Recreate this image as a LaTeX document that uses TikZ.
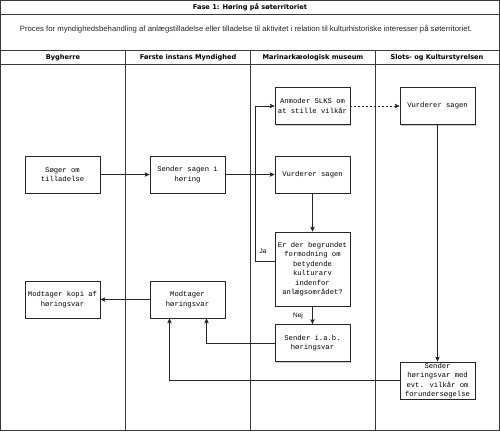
\documentclass[tikz,border=0pt]{standalone}
\usepackage{fontspec}
\setmainfont{Liberation Sans}
\newfontfamily\boxfont{Liberation Mono}
\newfontfamily\headfont{DejaVu Sans}
\usetikzlibrary{arrows.meta,shadows,calc}
\definecolor{lane}{HTML}{3A3A3A}
\tikzset{
  lanes/.style={draw=lane, line width=0.9pt},
  procbox/.style={draw=black!85, line width=0.7pt, fill=white, minimum width=75pt, minimum height=37pt,
    align=center, inner sep=1pt, font=\boxfont\fontsize{7.2}{9.5}\selectfont,
    drop shadow={shadow xshift=1.2pt, shadow yshift=-1.2pt, opacity=0.35, fill=black!60}},
  tallbox/.style={procbox, minimum height=74pt},
  hdr/.style={font=\headfont\bfseries\fontsize{6.6}{8}\selectfont, inner sep=0pt},
  conn/.style={draw=black!85, line width=0.6pt, -{Stealth[length=5pt,width=4.5pt,inset=1.2pt]}},
  lbl/.style={font=\fontsize{6.5}{8}\selectfont, inner sep=0.5pt, fill=white}
}
\begin{document}
\begin{tikzpicture}[x=1pt,y=-1pt]
\useasboundingbox (0,0) rectangle (500,431);
% frame
\draw[lanes] (0.5,0.5) rectangle (499.5,430.5);
\draw[lanes] (0.5,14.5) -- (499.5,14.5);
\draw[lanes] (0.5,50) -- (499.5,50);
\draw[lanes] (0.5,64.3) -- (499.5,64.3);
\draw[lanes] (125,50) -- (125,430.5);
\draw[lanes] (250,50) -- (250,430.5);
\draw[lanes] (375,50) -- (375,430.5);
% titles
\node[hdr] (title) at (250,7.5) {Fase 1: Høring på søterritoriet};
\node[font=\fontsize{7.75}{9}\selectfont, text=black!85, inner sep=0pt] (desc) at (246,29.5) {Proces for myndighedsbehandling af anlægstilladelse eller tilladelse til aktivitet i relation til kulturhistoriske interesser på søterritoriet.};
\node[hdr] (h1) at (63,57.5) {Bygherre};
\node[hdr] (h2) at (188,57.5) {Første instans Myndighed};
\node[hdr] (h3) at (313,57.5) {Marinarkæologisk museum};
\node[hdr] (h4) at (437,57.5) {Slots- og Kulturstyrelsen};
% boxes
\node[procbox] (soeg) at (62.5,174.5) {Søger om\\tilladelse};
\node[procbox] (send) at (187.5,174.5) {Sender sagen i\\høring};
\node[procbox] (anm) at (312.5,106) {Anmoder SLKS om\\at stille vilkår};
\node[procbox] (vurm) at (312.5,174.5) {Vurderer sagen};
\node[tallbox] (q) at (312.5,269) {Er der begrundet\\formodning om\\betydende\\kulturarv\\indenfor\\anlægsområdet?};
\node[procbox] (iab) at (312.5,343) {Sender i.a.b.\\høringsvar};
\node[procbox] (vurs) at (437.5,106) {Vurderer sagen};
\node[procbox] (evt) at (437.5,380.5) {Sender\\høringsvar med\\evt. vilkår om\\forundersøgelse};
\node[procbox] (kopi) at (62.5,299.5) {Modtager kopi af\\høringsvar};
\node[procbox] (mh) at (187.5,299.5) {Modtager\\høringsvar};
% connectors
\draw[conn] (soeg) -- (send);
\draw[conn] (send) -- (vurm);
\draw[conn] (vurm) -- (q);
\draw[conn] (q) -- (iab);
\draw[conn] ([yshift=8pt]q.west) -- ++(-19,0) |- (anm.west);
\draw[conn, dashed, dash pattern=on 2pt off 2pt] (anm) -- (vurs);
\draw[conn] (vurs) -- (evt);
\draw[conn] (iab.west) -| ([xshift=19pt]mh.south);
\draw[conn] (evt.west) -| ([xshift=-18pt]mh.south);
\draw[conn] (mh) -- (kopi);
% labels
\node[lbl] (ja) at (263,251.5) {Ja};
\node[lbl] (nej) at (298,315.5) {Nej};
\end{tikzpicture}
\end{document}
